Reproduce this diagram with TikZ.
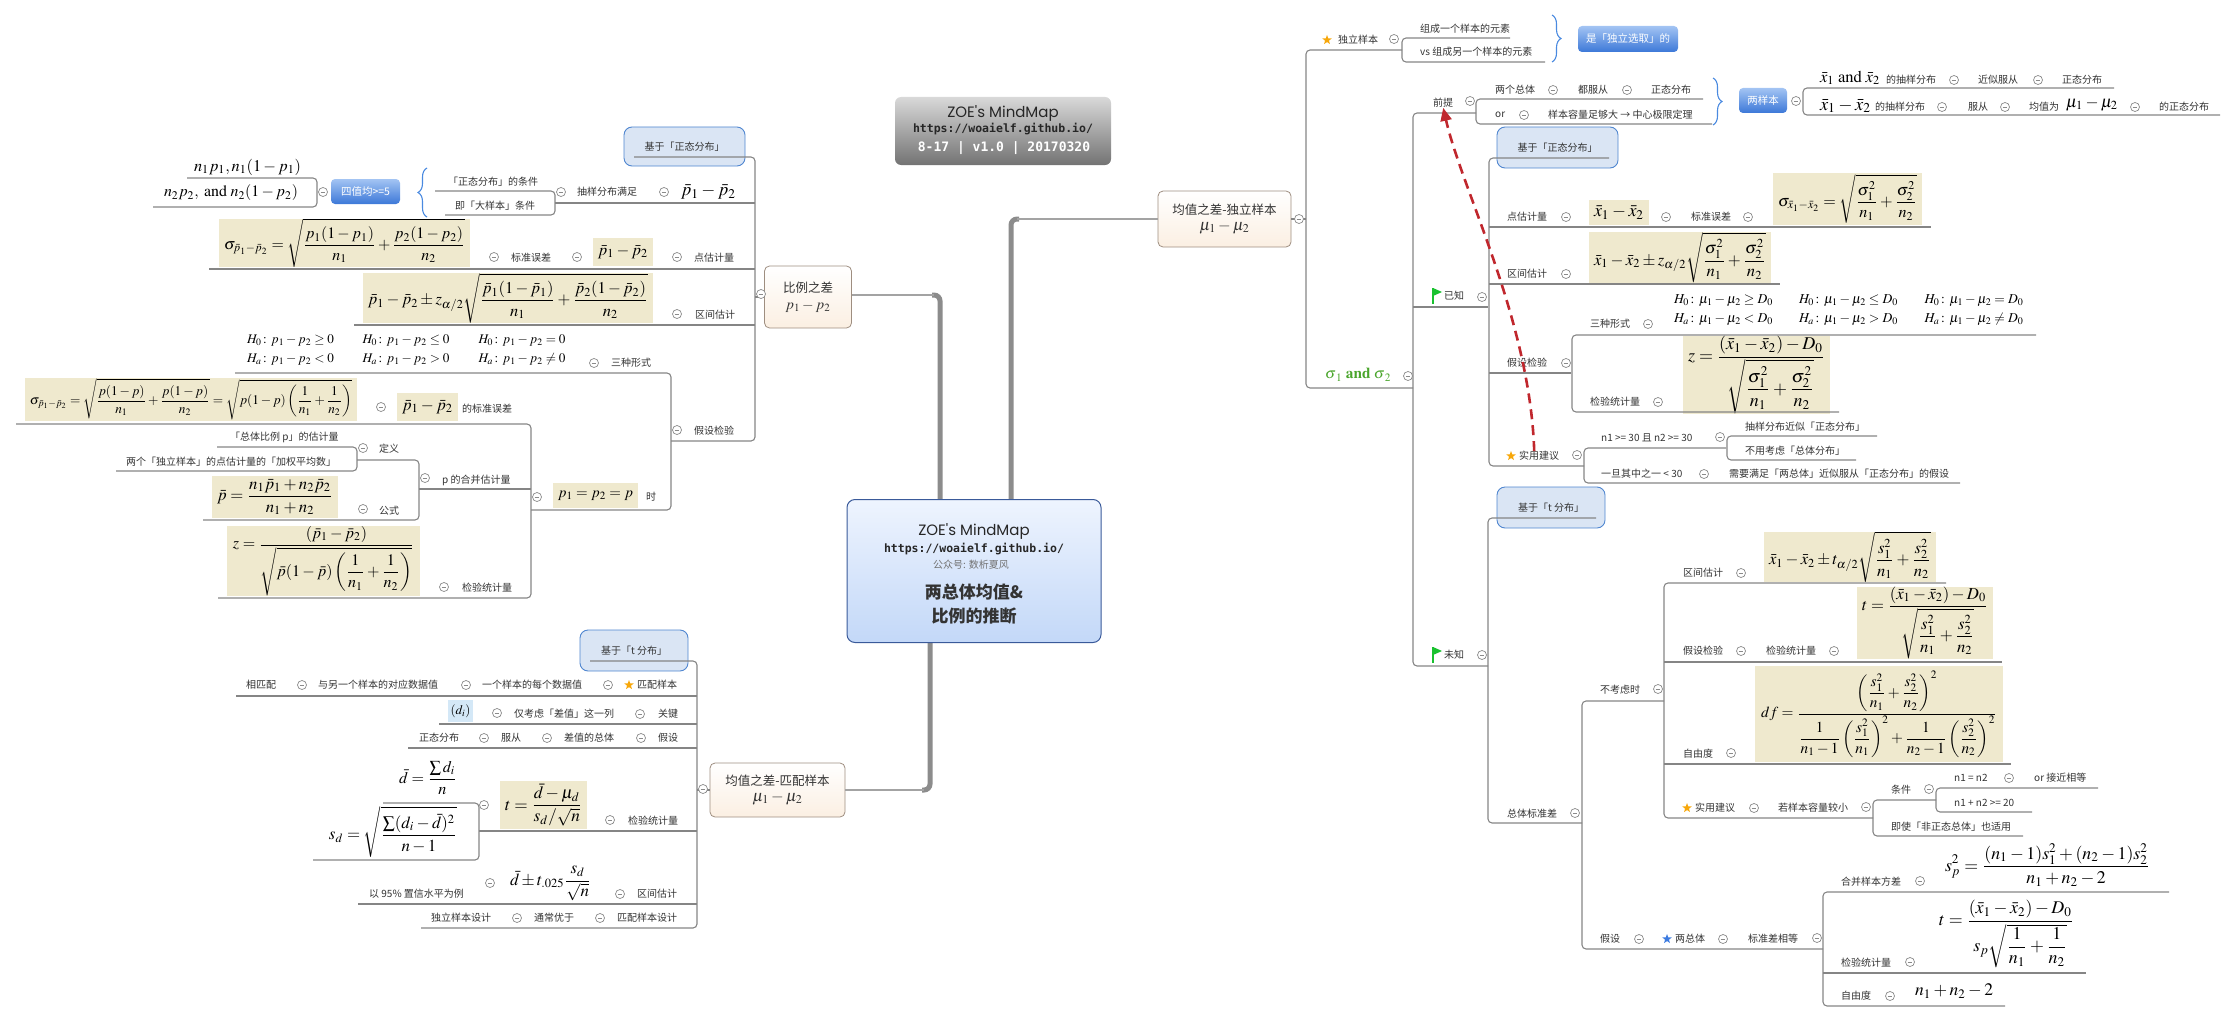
\documentclass[tikz,border=0pt]{standalone}
\usepackage{mathptmx}
\usepackage[no-math]{fontspec}
\usepackage{amsmath}
\usepackage{graphicx}
\setmainfont{Noto Sans CJK SC}
\newfontfamily\logofont{Poppins}
\newfontfamily\urlfont{DejaVu Sans Mono}
\usetikzlibrary{shapes.geometric,decorations.pathreplacing,arrows.meta}

\definecolor{treeline}{HTML}{858585}
\definecolor{collgray}{HTML}{8A8A8A}
\definecolor{txtgray}{HTML}{333333}
\definecolor{creambg}{HTML}{EFE9CE}
\definecolor{basisfill}{HTML}{DAE5F4}
\definecolor{basisdraw}{HTML}{4F86D0}
\definecolor{btntop}{HTML}{A3C4F3}
\definecolor{btnbot}{HTML}{3C78D8}
\definecolor{topicfill}{HTML}{FBEFE2}
\definecolor{topicdraw}{HTML}{9E8E80}
\definecolor{mainline}{HTML}{8C8C8C}
\definecolor{hubtop}{HTML}{EEF4FE}
\definecolor{hubbot}{HTML}{C3D8F8}
\definecolor{hubdraw}{HTML}{3A5A9A}
\definecolor{flaggreen}{HTML}{19C12F}
\definecolor{sigmagreen}{HTML}{4AA52C}
\definecolor{hintred}{HTML}{C0272D}
\definecolor{starorange}{HTML}{F7A70A}
\definecolor{starblue}{HTML}{3C7BE0}
\definecolor{bracecol}{HTML}{4A8AE0}
\definecolor{dibg}{HTML}{D4E8F7}

% formula scaled to a given width
\newcommand{\fw}[2]{\resizebox{#1pt}{!}{$\displaystyle #2$}}
\newcommand{\flagmark}[2]{%
  \fill[flaggreen] (#1,#2-8) -- (#1+9,#2-4) -- (#1,#2) -- cycle;
  \draw[flaggreen,line width=1.2pt] (#1,#2-8) -- (#1,#2+8);}

\tikzset{
  tree/.style={draw=treeline,line width=1.1pt,rounded corners=4pt},
  txt/.style={anchor=west,inner sep=0pt,text=txtgray,font=\fontsize{10}{12}\selectfont},
  fml/.style={inner sep=0pt},
  cream/.style={fill=creambg,inner sep=0pt},
  coll/.style={circle,draw=collgray,fill=white,line width=0.7pt,minimum size=9pt,inner sep=0pt,
    path picture={\draw[collgray,line width=0.7pt] ([xshift=2.2pt]path picture bounding box.west) -- ([xshift=-2.2pt]path picture bounding box.east);}},
  basis/.style={draw=basisdraw,fill=basisfill,rounded corners=8pt,line width=0.9pt,inner sep=0pt,text=txtgray,font=\fontsize{10}{12}\selectfont},
  btn/.style={rounded corners=4pt,top color=btntop,bottom color=btnbot,text=white,inner sep=0pt,font=\fontsize{10.5}{12}\selectfont},
  topic/.style={draw=topicdraw,line width=0.8pt,top color=white,bottom color=topicfill,rounded corners=5pt,inner sep=0pt,align=center,text=txtgray,font=\fontsize{12.5}{14}\selectfont},
  hub/.style={draw=hubdraw,line width=1pt,top color=hubtop,bottom color=hubbot,rounded corners=8pt},
  titlebox/.style={top color=black!15,bottom color=black!55,rounded corners=6pt},
  mainlink/.style={draw=mainline,line width=5pt,rounded corners=6pt},
  thinlink/.style={draw=mainline!80,line width=2pt},
  starmark/.style={star,star points=5,star point ratio=2.4,fill=#1,inner sep=0pt,minimum size=10pt},
  curly/.style={decorate,decoration={brace,amplitude=9pt},draw=bracecol,line width=1.1pt},
  hint/.style={draw=hintred,line width=2.6pt,dash pattern=on 10pt off 6pt,-{Triangle[length=13pt,width=11pt]}}
}

\begin{document}
\begin{tikzpicture}[x=1pt,y=-1pt]
\useasboundingbox (0,0) rectangle (2237,1022);

% title card
\node[titlebox,minimum width=216,minimum height=68] (ttl) at (1003,131) {};
\node[inner sep=0pt,font=\logofont\fontsize{15}{15}\selectfont,text=black!85] (ttl1) at (1003,113) {ZOE's MindMap};
\node[inner sep=0pt,font=\urlfont\bfseries\fontsize{11.5}{12}\selectfont,text=black!85] (ttl2) at (1003,129) {https://woaielf.github.io/};
\node[inner sep=0pt,font=\urlfont\bfseries\fontsize{13}{14}\selectfont,text=white] (ttl3) at (1004,148) {8-17 | v1.0 | 20170320};

% main links
\draw[mainlink] (940,500) |- (932,295);
\draw[mainlink] (1011,500) |- (1019,219);
\draw[mainlink] (930,642) |- (922,790);

% central topic
\node[hub,minimum width=254,minimum height=143] (ctr) at (974,571) {};
\node[inner sep=0pt,font=\logofont\fontsize{15}{15}\selectfont,text=black!85] (ctr1) at (974,531) {ZOE's MindMap};
\node[inner sep=0pt,font=\urlfont\bfseries\fontsize{11.5}{12}\selectfont,text=black!85] (ctr2) at (974,549) {https://woaielf.github.io/};
\node[inner sep=0pt,font=\fontsize{10}{10}\selectfont,text=black!55] (ctr3) at (971,565) {公众号: 数析夏风};
\node[inner sep=0pt,font=\bfseries\fontsize{17}{17}\selectfont,text=black!80] (ctr4) at (974,592) {两总体均值\&};
\node[inner sep=0pt,font=\bfseries\fontsize{17}{17}\selectfont,text=black!80] (ctr5) at (974,616) {比例的推断};

% main topics
\node[topic,minimum width=87,minimum height=62] (bl) at (808,297) {比例之差\\[3pt]\fw{45}{p_1-p_2}};
\node[topic,minimum width=133,minimum height=56] (ri) at (1224.5,219) {均值之差-独立样本\\[2pt]\fw{50}{\mu_1-\mu_2}};
\node[topic,minimum width=135,minimum height=54] (mt) at (777.5,790) {均值之差-匹配样本\\[2pt]\fw{50}{\mu_1-\mu_2}};
\draw[thinlink] (934,295) -- (bl.east |- 0,295);
\draw[thinlink] (1017,219) -- (ri.west);
\draw[thinlink] (924,790) -- (mt.east);

% labels on the branches
\node[basis,minimum width=121,minimum height=39] (lb1) at (684.5,146.5) {基于「正态分布」};
\node[basis,minimum width=108,minimum height=41] (lb2) at (634,650.5) {基于「t 分布」};
\node[basis,minimum width=121,minimum height=41] (lb3) at (1557.5,147.5) {基于「正态分布」};
\node[basis,minimum width=108,minimum height=41] (lb4) at (1551,507.5) {基于「t 分布」};
\node[btn,minimum width=69,minimum height=25] (bt1) at (365.5,191.5) {四值均>=5};
\node[btn,minimum width=100,minimum height=26] (bt2) at (1628,39) {是「独立选取」的};
\node[btn,minimum width=48,minimum height=25] (bt3) at (1763,100.5) {两样本};
\draw[curly] (427,217) -- (427,168);
\draw[curly] (1552,15) -- (1552,62);
\draw[curly] (1713,78) -- (1713,125);

% formulas, proportion branch
\node[fml] (fnp1) at (247.5,167) {\fw{107}{n_1p_1, n_1(1-p_1)}};
\node[fml] (fnp2) at (231,193) {\fw{134}{n_2p_2,\ \mathrm{and}\ n_2(1-p_2)}};
\node[fml] (fpp) at (708.5,192) {\fw{55}{\bar p_1-\bar p_2}};
\node[cream,minimum width=251,minimum height=46] (fsep) at (344.5,243) {\fw{241}{\sigma_{\bar p_1-\bar p_2}=\sqrt{\frac{p_1(1-p_1)}{n_1}+\frac{p_2(1-p_2)}{n_2}}}};
\node[cream,minimum width=60,minimum height=28] (fpe) at (623,252) {\fw{50}{\bar p_1-\bar p_2}};
\node[cream,minimum width=290,minimum height=50] (fci) at (508,298) {\fw{280}{\bar p_1-\bar p_2\pm z_{\alpha/2}\sqrt{\frac{\bar p_1(1-\bar p_1)}{n_1}+\frac{\bar p_2(1-\bar p_2)}{n_2}}}};
\node[fml] (hp1) at (290.5,350) {\fw{87}{\begin{array}{@{}l@{}}H_0\colon p_1-p_2\ge 0\\[2pt] H_a\colon p_1-p_2<0\end{array}}};
\node[fml] (hp2) at (406,350) {\fw{87}{\begin{array}{@{}l@{}}H_0\colon p_1-p_2\le 0\\[2pt] H_a\colon p_1-p_2>0\end{array}}};
\node[fml] (hp3) at (522,350) {\fw{87}{\begin{array}{@{}l@{}}H_0\colon p_1-p_2= 0\\[2pt] H_a\colon p_1-p_2\neq 0\end{array}}};
\node[cream,minimum width=85,minimum height=25] (fpeq) at (595.5,495.5) {\fw{75}{p_1=p_2=p}};
\node[cream,minimum width=332,minimum height=43] (fsep2) at (191,399.5) {\fw{322}{\sigma_{\bar p_1-\bar p_2}=\sqrt{\frac{p(1-p)}{n_1}+\frac{p(1-p)}{n_2}}=\sqrt{p(1-p)\left(\frac{1}{n_1}+\frac{1}{n_2}\right)}}};
\node[cream,minimum width=61,minimum height=28] (fpe2) at (427.5,407) {\fw{51}{\bar p_1-\bar p_2}};
\node[cream,minimum width=126,minimum height=42] (fpbar) at (275,497) {\fw{116}{\bar p=\frac{n_1\bar p_1+n_2\bar p_2}{n_1+n_2}}};
\node[cream,minimum width=193,minimum height=70] (fzp) at (323.5,561) {\fw{181}{z=\frac{(\bar p_1-\bar p_2)}{\sqrt{\bar p(1-\bar p)\left(\dfrac{1}{n_1}+\dfrac{1}{n_2}\right)}}}};

% formulas, matched branch
\node[fill=dibg,inner sep=0pt,minimum width=25,minimum height=22] (fdi) at (460.5,711) {\fw{20}{(d_i)}};
\node[fml] (fdbar) at (428,778) {\fw{58}{\bar d=\frac{\sum d_i}{n}}};
\node[fml] (fsd) at (393,831.5) {\fw{128}{s_d=\sqrt{\frac{\sum(d_i-\bar d)^2}{n-1}}}};
\node[cream,minimum width=87,minimum height=48] (ftd) at (543.5,805) {\fw{77}{t=\frac{\bar d-\mu_d}{s_d/\sqrt{n}}}};
\node[fml] (fdci) at (550.5,883.5) {\fw{81}{\bar d\pm t_{.025}\frac{s_d}{\sqrt{n}}}};

% formulas, independent branch
\node[fml] (fand) at (1850,78) {\fw{60}{\bar x_1\ \mathrm{and}\ \bar x_2}};
\node[fml] (fxd) at (1845.5,106) {\fw{51}{\bar x_1-\bar x_2}};
\node[fml] (fmu) at (2092,104) {\fw{52}{\mu_1-\mu_2}};
\node[cream,minimum width=60,minimum height=25] (fxd2) at (1619,212.5) {\fw{50}{\bar x_1-\bar x_2}};
\node[cream,minimum width=149,minimum height=52] (fsx) at (1847.5,199) {\fw{139}{\sigma_{\bar x_1-\bar x_2}=\sqrt{\frac{\sigma_1^2}{n_1}+\frac{\sigma_2^2}{n_2}}}};
\node[cream,minimum width=182,minimum height=49] (fzci) at (1680,257.5) {\fw{172}{\bar x_1-\bar x_2\pm z_{\alpha/2}\sqrt{\frac{\sigma_1^2}{n_1}+\frac{\sigma_2^2}{n_2}}}};
\node[fml] (hm1) at (1723.5,310) {\fw{99}{\begin{array}{@{}l@{}}H_0\colon \mu_1-\mu_2\ge D_0\\[2pt] H_a\colon \mu_1-\mu_2<D_0\end{array}}};
\node[fml] (hm2) at (1848.5,310) {\fw{99}{\begin{array}{@{}l@{}}H_0\colon \mu_1-\mu_2\le D_0\\[2pt] H_a\colon \mu_1-\mu_2>D_0\end{array}}};
\node[fml] (hm3) at (1974,310) {\fw{99}{\begin{array}{@{}l@{}}H_0\colon \mu_1-\mu_2= D_0\\[2pt] H_a\colon \mu_1-\mu_2\neq D_0\end{array}}};
\node[cream,minimum width=147,minimum height=70] (fzt) at (1756.5,375) {\fw{137}{z=\frac{(\bar x_1-\bar x_2)-D_0}{\sqrt{\dfrac{\sigma_1^2}{n_1}+\dfrac{\sigma_2^2}{n_2}}}}};
\node[cream,minimum width=172,minimum height=48] (ftci) at (1850,557) {\fw{162}{\bar x_1-\bar x_2\pm t_{\alpha/2}\sqrt{\frac{s_1^2}{n_1}+\frac{s_2^2}{n_2}}}};
\node[cream,minimum width=136,minimum height=70] (ftt) at (1925,623) {\fw{126}{t=\frac{(\bar x_1-\bar x_2)-D_0}{\sqrt{\dfrac{s_1^2}{n_1}+\dfrac{s_2^2}{n_2}}}}};
\node[cream,minimum width=248,minimum height=96] (fdf) at (1879,714) {\fw{236}{df=\frac{\left(\dfrac{s_1^2}{n_1}+\dfrac{s_2^2}{n_2}\right)^2}{\dfrac{1}{n_1-1}\left(\dfrac{s_1^2}{n_1}\right)^2+\dfrac{1}{n_2-1}\left(\dfrac{s_2^2}{n_2}\right)^2}}};
\node[fml] (fsp) at (2047.5,865) {\fw{205}{s_p^2=\frac{(n_1-1)s_1^2+(n_2-1)s_2^2}{n_1+n_2-2}}};
\node[fml] (ftp) at (2006.5,934) {\fw{135}{t=\frac{(\bar x_1-\bar x_2)-D_0}{s_p\sqrt{\dfrac{1}{n_1}+\dfrac{1}{n_2}}}}};
\node[fml] (fdfp) at (1954,991) {\fw{78}{n_1+n_2-2}};
\node[fml,anchor=west] (sg) at (1325,375) {\color{sigmagreen}\fw{66}{\boldsymbol{\sigma}_1\ \mathbf{and}\ \boldsymbol{\sigma}_2}};

% tree lines: first child -- vertical -- last child
\foreach \xa/\ya/\xv/\xb/\yb in {634/157/755/671/441, 435/191/555/445/215, 187/178/317/153/207,
    235/373/671/531/510, 16/424/531/218/598, 357/460/419/203/520, 217/447/357/116/471,
    590/661/697/421/928, 383/803/479/313/860,
    1402/50/1306/1413/388, 1510/38/1402/1545/62, 1476/113/1413/1488/666, 1703/99/1476/1712/124,
    2114/88/1803/2220/115, 1609/158/1489/1584/466, 2036/335/1572/1839/412, 1726/448/1584/1960/483,
    1877/436/1727/1856/460, 1596/518/1488/1582/823, 1664/701/1582/1823/949, 1946/583/1664/1873/818,
    1936/800/1873/2023/836, 2098/788/1936/2032/812, 2169/892/1823/2005/1006}{
  \draw[tree] (\xa,\ya) -- (\xv,\ya) -- (\xv,\yb) -- (\xb,\yb);
}
% middle children
\foreach \xa/\xb/\y in {555/755/203, 209/755/269, 354/755/325, 419/531/489,
    236/697/696, 439/697/724, 408/697/748, 479/697/831, 358/697/904,
    1413/1488/307, 1489/1931/227, 1489/1780/284, 1489/1571/373,
    1664/2002/662, 1664/2011/764, 1823/2086/973}{
  \draw[tree] (\xa,\y) -- (\xb,\y);
}
\draw[tree] (bl.west) -- (755,297);
\draw[tree] (mt.west) -- (697,790);
\draw[tree] (ri.east) -- (1306,219);

% collapse marks
\foreach \x/\y in {561/192, 664/192, 323/192, 494/257, 577/257, 677/257, 677/314, 677/430, 594/363,
    537/497, 381/407, 425/478, 363/448, 363/509, 444/587, 761/294,
    703/789, 302/685, 466/685, 608/685, 497/713, 640/714, 484/738, 547/738, 641/738, 610/820,
    484/805, 620/894, 490/883, 517/918, 600/918,
    1299/219, 1394/39, 1408/376, 1470/101, 1553/90, 1627/90, 1524/115, 1796/101, 1954/80, 2038/80,
    1942/107, 2005/107, 2135/107, 1482/297, 1566/217, 1666/217, 1748/217, 1566/274, 1566/363,
    1648/324, 1658/402, 1577/455, 1720/437, 1704/474, 1482/655, 1575/813, 1658/689, 1741/573,
    1741/651, 1834/651, 1731/753, 1754/808, 1866/807, 1929/789, 2009/778, 1639/939, 1723/939,
    1817/938, 1920/881, 1910/962, 1890/996}{
  \node[coll] (c\x-\y) at (\x,\y) {};
}

% texts
\foreach \nm/\x/\y/\tx in {tA/577/192/抽样分布满足, tB/448/182/「正态分布」的条件, tC/455/206/即「大样本」条件,
    tD/511/258/标准误差, tE/694/258/点估计量, tF/695/315/区间估计, tG/694/431/假设检验,
    tH/611/363/三种形式, tI/646/497/时, tJ/462/409/的标准误差, tK/442/480/p 的合并估计量,
    tL/379/449/定义, tM/230/437/「总体比例 p」的估计量, tN/126/462/两个「独立样本」的点估计量的「加权平均数」,
    tO/379/511/公式, tP/462/588/检验统计量,
    mA/246/685/相匹配, mB/318/685/与另一个样本的对应数据值, mC/482/685/一个样本的每个数据值,
    mD/637/685/匹配样本, mE/514/714/仅考虑「差值」这一列, mF/658/714/关键, mG/419/738/正态分布,
    mH/501/738/服从, mI/564/738/差值的总体, mJ/658/738/假设, mK/628/821/检验统计量,
    mL/637/894/区间估计, mM/369/894/以 95\% 置信水平为例, mN/431/918/独立样本设计,
    mO/534/918/通常优于, mP/617/918/匹配样本设计,
    rA/1338/40/独立样本, rB/1420/29/组成一个样本的元素, rC/1420/52/vs 组成另一个样本的元素,
    rD/1433/103/前提, rE/1495/90/两个总体, rF/1578/90/都服从, rG/1651/90/正态分布, rH/1495/115/or,
    rI/1548/115/样本容量足够大 → 中心极限定理, rJ/1886/80/的抽样分布, rK/1978/80/近似服从,
    rL/2062/80/正态分布, rM/1875/107/的抽样分布, rN/1968/107/服从, rO/2029/107/均值为,
    rP/2159/107/的正态分布, rQ/1444/296/已知, rR/1507/217/点估计量, rS/1691/217/标准误差,
    rT/1507/274/区间估计, rU/1507/363/假设检验, rV/1590/324/三种形式, rW/1590/402/检验统计量,
    rX/1519/456/实用建议, rY/1601/438/n1 >= 30 且 n2 >= 30, rZ/1745/427/抽样分布近似「正态分布」,
    sA/1745/451/不用考虑「总体分布」, sB/1601/474/一旦其中之一 < 30,
    sC/1729/474/需要满足「两总体」近似服从「正态分布」的假设, sD/1444/655/未知,
    sE/1507/814/总体标准差, sF/1600/690/不考虑时, sG/1683/573/区间估计, sH/1683/651/假设检验,
    sI/1766/651/检验统计量, sJ/1683/754/自由度, sK/1695/808/实用建议, sL/1778/808/若样本容量较小,
    sM/1891/790/条件, sN/1954/778/n1 = n2, sO/2034/778/or 接近相等, sP/1954/803/n1 + n2 >= 20,
    sQ/1891/827/即使「非正态总体」也适用, sR/1600/939/假设, sS/1675/939/两总体,
    sT/1748/939/标准差相等, sU/1841/882/合并样本方差, sV/1841/963/检验统计量, sW/1841/996/自由度}{
  \node[txt] (\nm) at (\x,\y) {\tx};
}

% stars and flags
\node[starmark=starorange] (st1) at (1327,40) {};
\node[starmark=starorange] (st2) at (629,685) {};
\node[starmark=starorange] (st3) at (1511,456) {};
\node[starmark=starorange] (st4) at (1687,808) {};
\node[starmark=starblue] (st5) at (1667,939) {};
\flagmark{1433}{296}
\flagmark{1433}{655}

% hint arrow
\draw[hint] ([xshift=-5pt]rX.north) .. controls (1530,320) and (1462,190) .. (rD.south);
\end{tikzpicture}
\end{document}
